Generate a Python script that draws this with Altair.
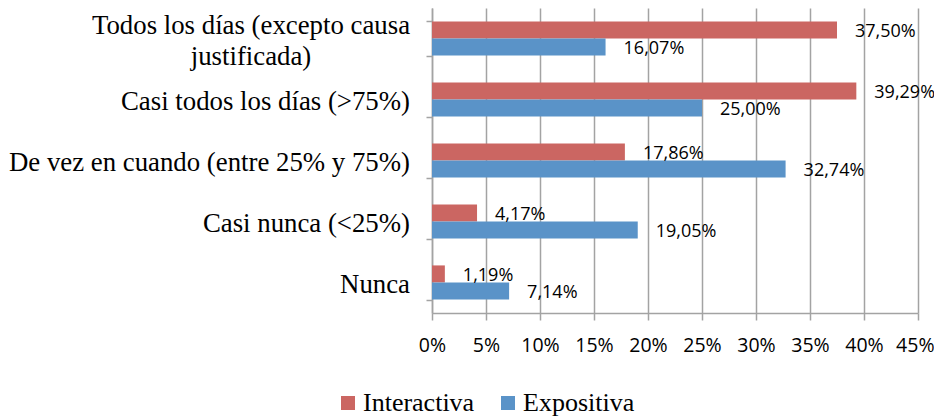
import altair as alt
import pandas as pd

categories = [
    "Todos los días (excepto causa justificada)",
    "Casi todos los días (>75%)",
    "De vez en cuando (entre 25% y 75%)",
    "Casi nunca (<25%)",
    "Nunca",
]
category_text = [
    "Todos los días (excepto causa\njustificada)",
    "Casi todos los días (>75%)",
    "De vez en cuando (entre 25% y 75%)",
    "Casi nunca (<25%)",
    "Nunca",
]
series = ["Interactiva", "Expositiva"]
interactiva = [37.50, 39.29, 17.86, 4.17, 1.19]
expositiva = [16.07, 25.00, 32.74, 19.05, 7.14]
colors = ["#CB6662", "#5A93C8"]
x_ticks = [0, 5, 10, 15, 20, 25, 30, 35, 40, 45]

rows = []
for c, a, b in zip(categories, interactiva, expositiva):
    rows.append({"cat": c, "serie": series[0], "v": a})
    rows.append({"cat": c, "serie": series[1], "v": b})
df = pd.DataFrame(rows)
df["lbl"] = df["v"].map(lambda v: f"{v:.2f}".replace(".", ",") + "%")

cat_df = pd.DataFrame({"cat": categories, "txt": category_text})

GRID = "#A3A3A3"

y_enc = alt.Y(
    "cat:N",
    sort=categories,
    scale=alt.Scale(paddingInner=0.44, paddingOuter=0.22),
    axis=alt.Axis(
        labels=False, title=None, tickBand="extent", tickSize=6,
        tickColor=GRID, tickWidth=1.5, domainColor=GRID, domainWidth=1.5, grid=False,
    ),
)
x_enc = alt.X(
    "v:Q",
    scale=alt.Scale(domain=[0, 45], nice=False),
    axis=alt.Axis(
        values=x_ticks, labelExpr="datum.value + '%'", title=None,
        grid=True, gridColor=GRID, gridWidth=1.5,
        tickSize=7, tickColor=GRID, tickWidth=1.5,
        domainColor=GRID, domainWidth=1.5,
        labelFont="Open Sans", labelFontSize=19.5, labelColor="black",
        labelPadding=16, labelFlush=False, labelOverlap=False, labelBound=False,
        labelAlign={"condition": {"test": "datum.value == 45", "value": "right"}, "value": "center"},
        labelOffset={"condition": {"test": "datum.value == 45", "value": 16}, "value": 0},
    ),
)

bars = alt.Chart(df).mark_bar().encode(
    x=x_enc,
    y=y_enc,
    yOffset=alt.YOffset("serie:N", sort=series),
    color=alt.Color(
        "serie:N",
        scale=alt.Scale(domain=series, range=colors),
        legend=alt.Legend(
            title=None, orient="none", direction="horizontal",
            legendX=-97, legendY=382,
            symbolType="square", symbolSize=196, symbolStrokeWidth=0,
            labelFont="Liberation Serif", labelFontSize=26, labelColor="black",
            labelOffset=2, columnPadding=20,
        ),
    ),
)

values = alt.Chart(df).mark_text(
    align="left", baseline="middle", dx=18, dy=2,
    font="Open Sans", fontSize=18, color="black",
).encode(
    x=alt.X("v:Q"),
    y=alt.Y("cat:N", sort=categories),
    yOffset=alt.YOffset("serie:N", sort=series),
    text="lbl:N",
)

cat_other = alt.Chart(cat_df).transform_filter(
    alt.datum.cat != categories[0]
).mark_text(
    align="right", baseline="middle", dy=2,
    font="Liberation Serif", fontSize=26.8, color="black",
).encode(
    y=alt.Y("cat:N", sort=categories),
    x=alt.value(-22),
    text="txt:N",
)

cat_first = alt.Chart(cat_df).transform_filter(
    alt.datum.cat == categories[0]
).mark_text(
    align="center", baseline="middle", dy=-13, lineBreak="\n", lineHeight=31,
    font="Liberation Serif", fontSize=26.8, color="black",
).encode(
    y=alt.Y("cat:N", sort=categories),
    x=alt.value(-181),
    text="txt:N",
)

chart = alt.layer(bars, values, cat_other, cat_first).properties(
    width=486,
    height=305,
    autosize=alt.AutoSizeParams(type="none"),
    padding={"left": 424, "top": 0, "right": 16, "bottom": 104},
    background="white",
).configure_view(stroke=None)

chart.save("out.html", embed_options={"renderer": "svg", "actions": False})
